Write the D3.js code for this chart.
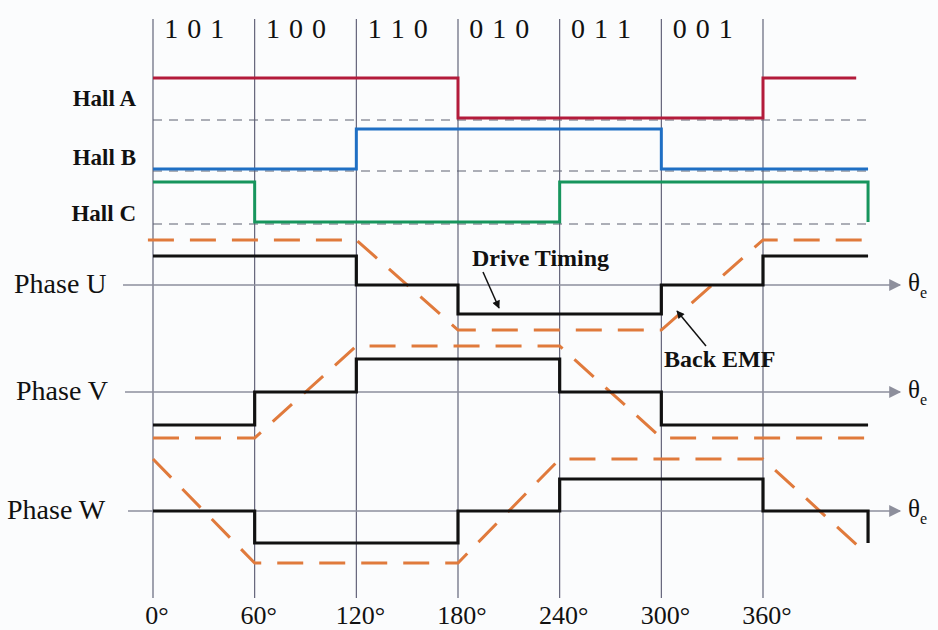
<!DOCTYPE html>
<html>
<head>
<meta charset="utf-8">
<script src="https://cdn.jsdelivr.net/npm/d3@7"></script>
<style>
  body { margin: 0; background: #fbfcfd; }
  svg { display: block; }
  text { font-family: "Liberation Serif", "Times New Roman", serif; fill: #111; }
</style>
</head>
<body>
<div id="chart"></div>
<script>
// electrical angle, one step every 60 degrees
var angles = [0, 60, 120, 180, 240, 300, 360];
var tickLabels = ["0°", "60°", "120°", "180°", "240°", "300°", "360°"];
var hallCodes = ["1 0 1", "1 0 0", "1 1 0", "0 1 0", "0 1 1", "0 0 1"];
var endAngle = 422;

// hall sensor states for each 60 degree sector (last one is 360-420)
var hallA = [1, 1, 1, 0, 0, 0, 1];
var hallB = [0, 0, 1, 1, 1, 0, 0];
var hallC = [1, 0, 0, 0, 1, 1, 1];

// drive timing per sector: 1 = +, 0 = off, -1 = -
var driveU = [1, 1, 0, -1, -1, 0, 1];
var driveV = [-1, 0, 1, 1, 0, -1, -1];
var driveW = [0, -1, -1, 0, 1, 1, 0];

// back EMF corner points [angle, level]
var emfU = [[-3, 1], [120, 1], [180, -1], [300, -1], [360, 1], [422, 1]];
var emfV = [[0, -1], [60, -1], [120, 1], [240, 1], [300, -1], [422, -1]];
var emfW = [[0, 1], [60, -1], [180, -1], [240, 1], [360, 1], [422, -0.85]];

var svgWidth = 938;
var svgHeight = 630;

var svg = d3.select("#chart")
  .append("svg")
  .attr("width", svgWidth)
  .attr("height", svgHeight);

var x = d3.scaleLinear().domain([0, 360]).range([153, 763]);

// arrow marker for the theta axes
var defs = svg.append("defs");
defs.append("marker")
  .attr("id", "axisArrow")
  .attr("viewBox", "0 0 10 10")
  .attr("refX", 9).attr("refY", 5)
  .attr("markerWidth", 16).attr("markerHeight", 12)
  .attr("markerUnits", "userSpaceOnUse")
  .attr("orient", "auto")
  .append("path")
  .attr("d", "M0,0 L10,5 L0,10 Z")
  .attr("fill", "#8d8f9c");
defs.append("marker")
  .attr("id", "noteArrow")
  .attr("viewBox", "0 0 10 10")
  .attr("refX", 9).attr("refY", 5)
  .attr("markerWidth", 10).attr("markerHeight", 8)
  .attr("markerUnits", "userSpaceOnUse")
  .attr("orient", "auto")
  .append("path")
  .attr("d", "M0,0 L10,5 L0,10 Z")
  .attr("fill", "#111");

// vertical sector lines
svg.append("g")
  .selectAll("line")
  .data(angles)
  .enter()
  .append("line")
  .attr("x1", d => x(d))
  .attr("x2", d => x(d))
  .attr("y1", 19)
  .attr("y2", 598)
  .attr("stroke", "#55566e")
  .attr("stroke-width", 1.1);

// hall code labels
svg.append("g")
  .selectAll("text")
  .data(hallCodes)
  .enter()
  .append("text")
  .attr("x", (d, i) => x(angles[i] + 30) - 9)
  .attr("y", 38)
  .attr("text-anchor", "middle")
  .attr("font-size", 28)
  .attr("letter-spacing", 1)
  .text(d => d);

// step series helper
function stepPoints(levels) {
  var pts = levels.map((v, i) => [i * 60, v]);
  pts.push([endAngle, levels[levels.length - 1]]);
  return pts;
}

// hall sensor rows
var hallRows = [
  {name: "Hall A", data: hallA, base: 119, color: "#b31b3b", end: 415, labelY: 106},
  {name: "Hall B", data: hallB, base: 170, color: "#1f6fc4", end: endAngle, labelY: 165},
  {name: "Hall C", data: hallC, base: 223, color: "#17955d", end: endAngle, labelY: 221, dropEnd: true}
];

hallRows.forEach(function(row) {
  var y = d3.scaleLinear().domain([0, 1]).range([row.base - 1, row.base - 41]);
  var pts = row.data.map((v, i) => [i * 60, v]);
  pts.push([row.end, row.data[row.data.length - 1]]);
  if (row.dropEnd) pts.push([row.end, 0]);

  svg.append("line")
    .attr("x1", x(0)).attr("x2", x(endAngle))
    .attr("y1", row.base + 1).attr("y2", row.base + 1)
    .attr("stroke", "#5d6070")
    .attr("stroke-width", 1)
    .attr("stroke-dasharray", "9,7");

  var line = d3.line()
    .x(d => x(d[0]))
    .y(d => y(d[1]))
    .curve(d3.curveStepAfter);

  svg.append("path")
    .datum(pts)
    .attr("d", line)
    .attr("fill", "none")
    .attr("stroke", row.color)
    .attr("stroke-width", 3);

  svg.append("text")
    .attr("x", 136)
    .attr("y", row.labelY)
    .attr("text-anchor", "end")
    .attr("font-size", 23)
    .attr("font-weight", "bold")
    .text(row.name);
});

// phase rows
var phaseRows = [
  {name: "Phase U", drive: driveU, emf: emfU, axis: 285, axisStart: 123, amp: 29, emfAmp: 45, labelX: 14},
  {name: "Phase V", drive: driveV, emf: emfV, axis: 392, axisStart: 125, amp: 33, emfAmp: 46, labelX: 16},
  {name: "Phase W", drive: driveW, emf: emfW, axis: 511, axisStart: 128, amp: 32, emfAmp: 52, labelX: 7, dropEnd: true}
];

phaseRows.forEach(function(row) {
  var yDrive = d3.scaleLinear().domain([-1, 1]).range([row.axis + row.amp, row.axis - row.amp]);
  var yEmf = d3.scaleLinear().domain([-1, 1]).range([row.axis + row.emfAmp, row.axis - row.emfAmp]);

  // theta axis
  svg.append("line")
    .attr("x1", row.axisStart).attr("x2", 900)
    .attr("y1", row.axis).attr("y2", row.axis)
    .attr("stroke", "#8d8f9c")
    .attr("stroke-width", 1.3)
    .attr("marker-end", "url(#axisArrow)");

  var theta = svg.append("text")
    .attr("x", 908)
    .attr("y", row.axis + 6)
    .attr("font-size", 25);
  theta.append("tspan").text("θ");
  theta.append("tspan").attr("font-size", 16).attr("dy", 7).text("e");

  // back EMF
  var emfLine = d3.line()
    .x(d => x(d[0]))
    .y(d => yEmf(d[1]));

  svg.append("path")
    .datum(row.emf)
    .attr("d", emfLine)
    .attr("fill", "none")
    .attr("stroke", "#e07a3c")
    .attr("stroke-width", 3)
    .attr("stroke-dasharray", "26,16");

  // drive timing
  var pts = stepPoints(row.drive);
  if (row.dropEnd) pts.push([endAngle, -1]);
  var driveLine = d3.line()
    .x(d => x(d[0]))
    .y(d => yDrive(d[1]))
    .curve(d3.curveStepAfter);

  svg.append("path")
    .datum(pts)
    .attr("d", driveLine)
    .attr("fill", "none")
    .attr("stroke", "#111")
    .attr("stroke-width", 3.2);

  svg.append("text")
    .attr("x", row.labelX)
    .attr("y", row.axis + 8)
    .attr("font-size", 28)
    .text(row.name);
});

// annotations
svg.append("text")
  .attr("x", 472).attr("y", 266)
  .attr("font-size", 24)
  .attr("font-weight", "bold")
  .text("Drive Timing");
svg.append("line")
  .attr("x1", 483).attr("y1", 272)
  .attr("x2", 499).attr("y2", 308)
  .attr("stroke", "#111").attr("stroke-width", 1.5)
  .attr("marker-end", "url(#noteArrow)");

svg.append("text")
  .attr("x", 664).attr("y", 367)
  .attr("font-size", 24)
  .attr("font-weight", "bold")
  .text("Back EMF");
svg.append("line")
  .attr("x1", 706).attr("y1", 346)
  .attr("x2", 677).attr("y2", 311)
  .attr("stroke", "#111").attr("stroke-width", 1.5)
  .attr("marker-end", "url(#noteArrow)");

// angle tick labels
svg.append("g")
  .selectAll("text")
  .data(tickLabels)
  .enter()
  .append("text")
  .attr("x", (d, i) => x(angles[i]) + 4)
  .attr("y", 624)
  .attr("text-anchor", "middle")
  .attr("font-size", 26)
  .text(d => d);
</script>
</body>
</html>
